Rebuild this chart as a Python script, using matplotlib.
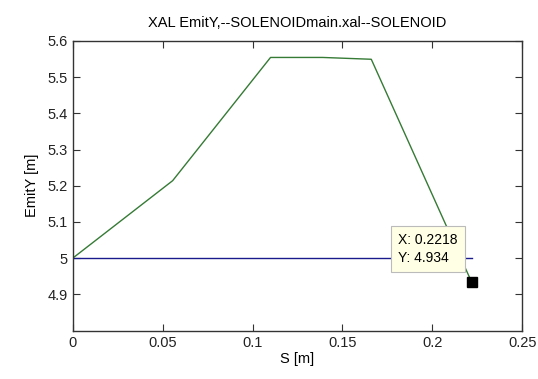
import matplotlib
matplotlib.use('Agg')
import matplotlib.pyplot as plt

# data
s_green = [0.0, 0.0556, 0.110, 0.139, 0.166, 0.2218]
emit_green = [5.0, 5.214, 5.554, 5.554, 5.549, 4.934]
s_blue = [0.0, 0.2218]
emit_blue = [5.0, 5.0]
tip_x = 0.2218
tip_y = 4.934

xticks = [0, 0.05, 0.1, 0.15, 0.2, 0.25]
xticklabels = ['0', '0.05', '0.1', '0.15', '0.2', '0.25']
yticks = [4.9, 5.0, 5.1, 5.2, 5.3, 5.4, 5.5, 5.6]
yticklabels = ['4.9', '5', '5.1', '5.2', '5.3', '5.4', '5.5', '5.6']

plt.rcParams['font.family'] = ['Liberation Sans', 'DejaVu Sans']
plt.rcParams['font.size'] = 10

fig = plt.figure(figsize=(5.38, 3.79), dpi=100)
ax = fig.add_axes([0.135, 0.1274, 0.836, 0.765])

ax.plot(s_blue, emit_blue, color='#1a1a8c', lw=1.0)
ax.plot(s_green, emit_green, color='#357a35', lw=1.0)

ax.set_xlim(0, 0.25)
ax.set_ylim(4.8, 5.6)
ax.set_xticks(xticks)
ax.set_xticklabels(xticklabels)
ax.set_yticks(yticks)
ax.set_yticklabels(yticklabels)
ax.tick_params(direction='in', length=5, top=True, right=True, colors='#333333',
               labelcolor='#222222', labelsize=10.5)
for sp in ax.spines.values():
    sp.set_color('#333333')
    sp.set_linewidth(1.0)

ax.set_xlabel('S [m]', fontsize=10.5, labelpad=2)
ax.set_ylabel('EmitY [m]', fontsize=10.5, labelpad=6)
ax.set_title('XAL EmitY,--SOLENOIDmain.xal--SOLENOID', fontsize=10.5, pad=10)

# data tip: yellow box above-left of the black square
ax.plot([tip_x], [tip_y], marker='s', color='black', ms=7, ls='none', zorder=5)
ax.annotate('X: %.4f\nY: %.3f' % (tip_x, tip_y), xy=(tip_x, tip_y),
            xytext=(-10, 12), textcoords='offset points', fontsize=10,
            ha='right', va='bottom', multialignment='left', linespacing=1.45,
            zorder=10,
            bbox=dict(boxstyle='square,pad=0.5', fc='#ffffe6', ec='#bbbbbb', lw=0.8))

fig.savefig('out.png', dpi=100)
